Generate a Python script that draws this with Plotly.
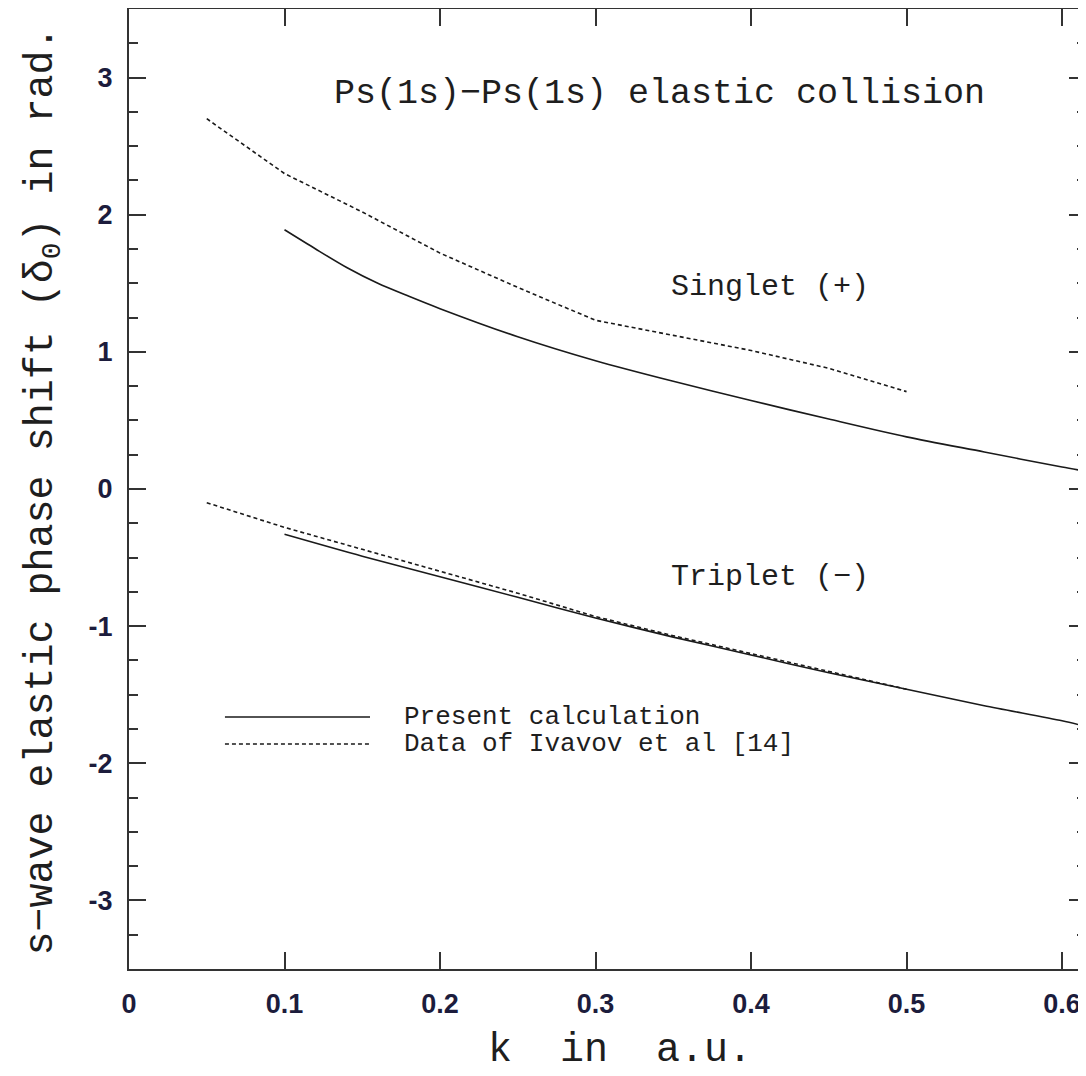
import plotly.graph_objects as go

# ---- data ----
k_singlet_present = [0.1, 0.12, 0.14, 0.16, 0.18, 0.2, 0.25, 0.3, 0.35, 0.4, 0.45, 0.5, 0.55, 0.6, 0.615]
d_singlet_present = [1.89, 1.75, 1.615, 1.50, 1.405, 1.315, 1.11, 0.935, 0.785, 0.645, 0.51, 0.38, 0.27, 0.16, 0.13]

k_singlet_ivanov = [0.05, 0.1, 0.15, 0.2, 0.25, 0.3, 0.35, 0.4, 0.45, 0.5]
d_singlet_ivanov = [2.70, 2.30, 2.02, 1.72, 1.47, 1.23, 1.12, 1.01, 0.88, 0.71]

k_triplet_present = [0.1, 0.15, 0.2, 0.25, 0.3, 0.35, 0.4, 0.45, 0.5, 0.55, 0.6, 0.615]
d_triplet_present = [-0.33, -0.49, -0.64, -0.79, -0.94, -1.08, -1.21, -1.34, -1.46, -1.58, -1.69, -1.73]

k_triplet_ivanov = [0.05, 0.1, 0.15, 0.2, 0.25, 0.3, 0.35, 0.4, 0.45, 0.5]
d_triplet_ivanov = [-0.10, -0.28, -0.44, -0.60, -0.76, -0.93, -1.07, -1.20, -1.33, -1.46]

x_ticks = [0, 0.1, 0.2, 0.3, 0.4, 0.5, 0.6]
x_tick_labels = ["0", "0.1", "0.2", "0.3", "0.4", "0.5", "0.6"]
y_ticks = [-3, -2, -1, 0, 1, 2, 3]
y_tick_labels = ["-3", "-2", "-1", "0", "1", "2", "3"]

X_RANGE = [0, 0.6154]
Y_RANGE = [-3.5, 3.5]

TXT = "Liberation Mono"
INK = "#1e1e1e"
SOLID = dict(color="#1a1a1a", width=1.6)
DASHED = dict(color="#1a1a1a", width=1.6, dash="4px,3px")

fig = go.Figure()
fig.add_trace(go.Scatter(x=k_singlet_present, y=d_singlet_present, mode="lines",
                         line=dict(SOLID, shape="spline", smoothing=0.8), showlegend=False))
fig.add_trace(go.Scatter(x=k_singlet_ivanov, y=d_singlet_ivanov, mode="lines",
                         line=DASHED, showlegend=False))
fig.add_trace(go.Scatter(x=k_triplet_present, y=d_triplet_present, mode="lines",
                         line=dict(SOLID, shape="spline", smoothing=0.8), showlegend=False))
fig.add_trace(go.Scatter(x=k_triplet_ivanov, y=d_triplet_ivanov, mode="lines",
                         line=DASHED, showlegend=False))
# invisible trace on the right-hand axis so its ticks are drawn
fig.add_trace(go.Scatter(x=[None], y=[None], yaxis="y2", showlegend=False, hoverinfo="skip"))

tickfont = dict(family="Liberation Sans Narrow, Liberation Sans", size=27,
                color="#1c1c3c", weight="bold")

fig.update_layout(
    width=1078, height=1068,
    margin=dict(l=121, r=0, t=1, b=107),
    paper_bgcolor="white", plot_bgcolor="white",
    showlegend=False,
    xaxis=dict(range=X_RANGE, tickvals=x_ticks, ticktext=x_tick_labels,
               ticks="inside", ticklen=17, tickwidth=1.5, tickcolor="#333",
               showline=True, linecolor="#333", linewidth=2, mirror="ticks",
               showgrid=False, zeroline=False, tickfont=tickfont,
               ticklabelstandoff=10),
    yaxis=dict(range=Y_RANGE, tickvals=y_ticks, ticktext=y_tick_labels,
               ticks="inside", ticklen=17, tickwidth=2, tickcolor="#333",
               showline=True, linecolor="#333", linewidth=2, mirror=False,
               showgrid=False, zeroline=False, tickfont=tickfont,
               ticklabelstandoff=9,
               minor=dict(dtick=0.25, ticks="inside", ticklen=9, tickwidth=2,
                          tickcolor="#333", showgrid=False)),
    yaxis2=dict(range=Y_RANGE, overlaying="y", side="right", tickvals=y_ticks,
                ticks="inside", ticklen=17, tickwidth=2, tickcolor="#333",
                showline=False, showgrid=False, zeroline=False, showticklabels=False,
                minor=dict(dtick=0.25, ticks="inside", ticklen=9, tickwidth=2,
                           tickcolor="#333", showgrid=False)),
)

annotations = [
    dict(x=0.341, y=2.88, xref="x", yref="y", text="Ps(1s)\u2212Ps(1s) elastic collision",
         showarrow=False, font=dict(family=TXT, size=35, color=INK)),
    dict(x=0.412, y=1.47, xref="x", yref="y", text="Singlet (+)",
         showarrow=False, font=dict(family=TXT, size=30, color=INK)),
    dict(x=0.412, y=-0.64, xref="x", yref="y", text="Triplet (\u2212)",
         showarrow=False, font=dict(family=TXT, size=30, color=INK)),
    dict(x=0.1756, y=-1.663, xref="x", yref="y", text="Present calculation",
         xanchor="left", showarrow=False, font=dict(family=TXT, size=26, color=INK)),
    dict(x=0.1756, y=-1.859, xref="x", yref="y", text="Data of Ivavov et al [14]",
         xanchor="left", showarrow=False, font=dict(family=TXT, size=26, color=INK)),
    dict(x=0.513, y=-0.110, xref="paper", yref="paper",
         text="k  in  a.u.", showarrow=False,
         font=dict(family=TXT, size=40, color=INK)),
    dict(x=-0.117, y=0.498, xref="paper", yref="paper", textangle=-90,
         text="s\u2212wave elastic phase shift (\u03b4<sub>0</sub>) in rad.",
         showarrow=False, font=dict(family=TXT, size=40, color=INK)),
]
fig.update_layout(annotations=annotations)

# legend sample lines
fig.add_shape(type="line", x0=0.0617, x1=0.155, y0=-1.663, y1=-1.663, xref="x", yref="y",
              line=SOLID)
fig.add_shape(type="line", x0=0.0617, x1=0.155, y0=-1.859, y1=-1.859, xref="x", yref="y",
              line=DASHED)

fig.write_html("out.html")
